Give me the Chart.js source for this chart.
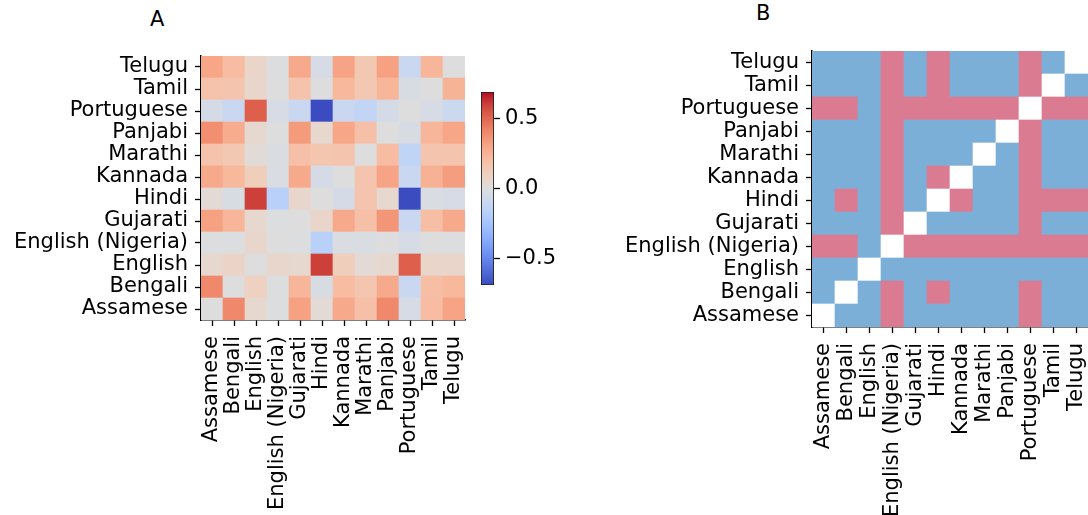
<!DOCTYPE html>
<html>
<head>
<meta charset="utf-8">
<title>Language correlation heatmaps</title>
<script src="https://cdn.jsdelivr.net/npm/chart.js@4"></script>
<style>
  html, body { margin: 0; padding: 0; background: #fff; }
  #wrap { position: relative; width: 1088px; height: 515px; overflow: hidden; }
  canvas { position: absolute; top: 0; }
  .panel-title { position: absolute; font-family: "DejaVu Sans"; font-size: 21px; color: #000; }
</style>
</head>
<body>
<div id="wrap">
  <div class="panel-title" style="left:150px; top:7px;">A</div>
  <div class="panel-title" style="left:756px; top:1px;">B</div>
  <canvas id="heatA" width="470" height="515" style="left:0"></canvas>
  <canvas id="cbar" width="90" height="515" style="left:470px"></canvas>
  <canvas id="heatB" width="528" height="515" style="left:560px"></canvas>
</div>
<script>
// --- DANE ---

const languages = ['Assamese', 'Bengali', 'English', 'English (Nigeria)', 'Gujarati', 'Hindi',
                   'Kannada', 'Marathi', 'Panjabi', 'Portuguese', 'Tamil', 'Telugu'];

// Panel A: wiersz = język (kolejność jak languages), kolumna = język
const corrAssamese   = [0.00, 0.40, 0.05, -0.01, 0.32, 0.03, 0.29, 0.19, 0.40, -0.04, 0.21, 0.31];
const corrBengali    = [0.40, 0.00, 0.10, -0.01, 0.24, -0.03, 0.21, 0.16, 0.29, -0.10, 0.20, 0.23];
const corrEnglish    = [0.05, 0.08, 0.00, 0.06, 0.05, 0.60, 0.12, 0.03, 0.05, 0.52, 0.07, 0.07];
const corrEnglishNg  = [-0.01, -0.01, 0.06, 0.00, -0.01, -0.17, -0.02, -0.02, 0.00, -0.04, 0.00, -0.01];
const corrGujarati   = [0.32, 0.24, 0.05, -0.01, 0.00, 0.07, 0.29, 0.19, 0.36, -0.10, 0.20, 0.29];
const corrHindi      = [0.03, -0.03, 0.60, -0.17, 0.06, 0.00, -0.05, 0.17, 0.05, -0.69, -0.02, -0.04];
const corrKannada    = [0.29, 0.23, 0.12, -0.02, 0.29, -0.05, 0.00, 0.17, 0.31, -0.10, 0.26, 0.33];
const corrMarathi    = [0.18, 0.15, 0.02, -0.02, 0.19, 0.16, 0.17, 0.00, 0.21, -0.14, 0.17, 0.17];
const corrPanjabi    = [0.38, 0.28, 0.05, 0.00, 0.34, 0.05, 0.30, 0.19, 0.00, -0.03, 0.24, 0.30];
const corrPortuguese = [-0.05, -0.10, 0.52, -0.04, -0.10, -0.69, -0.10, -0.13, -0.05, 0.00, -0.04, -0.09];
const corrTamil      = [0.18, 0.17, 0.06, 0.00, 0.18, 0.00, 0.23, 0.15, 0.24, -0.03, 0.00, 0.25];
const corrTelugu     = [0.30, 0.21, 0.07, -0.01, 0.29, -0.04, 0.31, 0.15, 0.32, -0.10, 0.24, 0.00];

const corrRows = [corrAssamese, corrBengali, corrEnglish, corrEnglishNg, corrGujarati, corrHindi,
                  corrKannada, corrMarathi, corrPanjabi, corrPortuguese, corrTamil, corrTelugu];

// Panel B: 1 = różowy, 0 = niebieski, null = przekątna (biała)
const sigAssamese   = [null, 0, 0, 1, 0, 0, 0, 0, 0, 1, 0, 0];
const sigBengali    = [0, null, 0, 1, 0, 1, 0, 0, 0, 1, 0, 0];
const sigEnglish    = [0, 0, null, 0, 0, 0, 0, 0, 0, 0, 0, 0];
const sigEnglishNg  = [1, 1, 0, null, 1, 1, 1, 1, 1, 1, 1, 1];
const sigGujarati   = [0, 0, 0, 1, null, 0, 0, 0, 0, 1, 0, 0];
const sigHindi      = [0, 1, 0, 1, 0, null, 1, 0, 0, 1, 1, 1];
const sigKannada    = [0, 0, 0, 1, 0, 1, null, 0, 0, 1, 0, 0];
const sigMarathi    = [0, 0, 0, 1, 0, 0, 0, null, 0, 1, 0, 0];
const sigPanjabi    = [0, 0, 0, 1, 0, 0, 0, 0, null, 1, 0, 0];
const sigPortuguese = [1, 1, 0, 1, 1, 1, 1, 1, 1, null, 1, 1];
const sigTamil      = [0, 0, 0, 1, 0, 1, 0, 0, 0, 1, null, 0];
const sigTelugu     = [0, 0, 0, 1, 0, 1, 0, 0, 0, 1, 0, null];

const sigRows = [sigAssamese, sigBengali, sigEnglish, sigEnglishNg, sigGujarati, sigHindi,
                 sigKannada, sigMarathi, sigPanjabi, sigPortuguese, sigTamil, sigTelugu];

const colorbarTicks = [-0.5, 0, 0.5];

// --- HELPERY ---

const FONT = { family: 'DejaVu Sans', size: 21 };

// matplotlib "coolwarm" (tabela Morelanda, 33 punkty)
const coolwarm = [
  [59,76,192],[68,90,204],[77,104,215],[87,117,225],[98,130,234],[108,142,241],[119,154,247],
  [130,165,251],[141,176,254],[152,185,255],[163,194,255],[174,201,253],[184,208,249],
  [194,213,244],[204,217,238],[213,219,230],[221,221,221],[229,216,209],[236,211,197],
  [241,204,185],[245,196,173],[247,187,160],[247,177,148],[247,166,135],[244,154,123],
  [241,141,111],[236,127,99],[229,112,88],[222,96,77],[213,80,66],[203,62,56],[192,40,47],[180,4,38]
];

function coolwarmColor(t) {
  t = Math.max(0, Math.min(1, t));
  const pos = t * (coolwarm.length - 1);
  const i = Math.min(coolwarm.length - 2, Math.floor(pos));
  const f = pos - i;
  const c = coolwarm[i].map((v, k) => Math.round(v + (coolwarm[i + 1][k] - v) * f));
  return `rgb(${c[0]},${c[1]},${c[2]})`;
}

// zakres kolorów symetryczny wokół zera
const vmax = Math.max(...corrRows.flat().map(Math.abs));

function corrColor(v) {
  return coolwarmColor((v + vmax) / (2 * vmax));
}

function sigColor(v) {
  if (v === null) return '#ffffff';
  return v === 1 ? '#db7b91' : '#7bafd8';
}

function axisGrid() {
  return { display: true, drawOnChartArea: false, drawTicks: true, tickLength: 6,
           tickWidth: 1.3, color: '#000', offset: false };
}

// zerowanie dodatkowego marginesu, który Chart.js dokłada na obrócone etykiety
function noScalePadding(s) {
  s.paddingLeft = 0; s.paddingRight = 0; s.paddingTop = 0; s.paddingBottom = 0;
}

// --- HEATMAPA (stos słupków: jeden zbiór danych na wiersz) ---

function renderHeatmap(canvasId, rows, colorFn, box) {
  const datasets = rows.map((row, r) => ({
    label: languages[r],
    data: languages.map(() => 1),
    backgroundColor: row.map(colorFn),
    borderWidth: 0,
    barPercentage: 1,
    categoryPercentage: 1
  }));

  return new Chart(document.getElementById(canvasId), {
    type: 'bar',
    data: { labels: languages, datasets: datasets },
    options: {
      responsive: false,
      animation: false,
      layout: { padding: { top: box.top, right: box.right, left: 0, bottom: 0 } },
      plugins: { legend: { display: false }, tooltip: { enabled: false } },
      scales: {
        x: {
          stacked: true,
          offset: true,
          grid: axisGrid(),
          border: { display: true, color: '#000', width: 1.5 },
          ticks: { autoSkip: false, maxRotation: 90, minRotation: 90, color: '#000',
                   font: FONT, padding: 10 },
          afterFit: s => { s.height = box.xHeight; noScalePadding(s); }
        },
        y: {
          stacked: true,
          min: 0,
          max: languages.length,
          grid: axisGrid(),
          border: { display: true, color: '#000', width: 1.5 },
          afterBuildTicks: s => { s.ticks = languages.map((_, i) => ({ value: i + 0.5 })); },
          ticks: { autoSkip: false, color: '#000', font: FONT, padding: 7,
                   callback: v => languages[Math.floor(v)] },
          afterFit: s => { s.width = box.yWidth; noScalePadding(s); }
        }
      }
    }
  });
}

// --- PASEK KOLORÓW ---

function renderColorbar() {
  new Chart(document.getElementById('cbar'), {
    type: 'bar',
    data: {
      labels: ['r'],
      datasets: [{
        data: [[-vmax, vmax]],
        backgroundColor: ctx => {
          const area = ctx.chart.chartArea;
          if (!area) return '#ddd';
          const g = ctx.chart.ctx.createLinearGradient(0, area.bottom, 0, area.top);
          coolwarm.forEach((c, i) => g.addColorStop(i / (coolwarm.length - 1), `rgb(${c.join(',')})`));
          return g;
        },
        borderColor: '#222',
        borderWidth: 1.2,
        borderSkipped: false,
        barPercentage: 1,
        categoryPercentage: 1
      }]
    },
    options: {
      responsive: false,
      animation: false,
      layout: { padding: { top: 92, bottom: 230, left: 11, right: 0 } },
      plugins: { legend: { display: false }, tooltip: { enabled: false } },
      scales: {
        x: { display: false },
        y: {
          position: 'right',
          min: -vmax,
          max: vmax,
          grid: { display: true, drawOnChartArea: false, drawTicks: true, tickLength: 6,
                  tickWidth: 1.3, color: '#000' },
          border: { display: false },
          afterBuildTicks: s => { s.ticks = colorbarTicks.map(v => ({ value: v })); },
          ticks: { autoSkip: false, color: '#000', font: FONT, padding: 5,
                   callback: v => (v < 0 ? '\u2212' : '') + Math.abs(v).toFixed(1) },
          afterFit: s => { s.width = 66; noScalePadding(s); }
        }
      }
    }
  });
}

renderHeatmap('heatA', corrRows, corrColor, { top: 56, right: 5, xHeight: 195, yWidth: 201 });
renderColorbar();
renderHeatmap('heatB', sigRows, sigColor, { top: 51, right: 0, xHeight: 188, yWidth: 252 });
</script>
</body>
</html>
